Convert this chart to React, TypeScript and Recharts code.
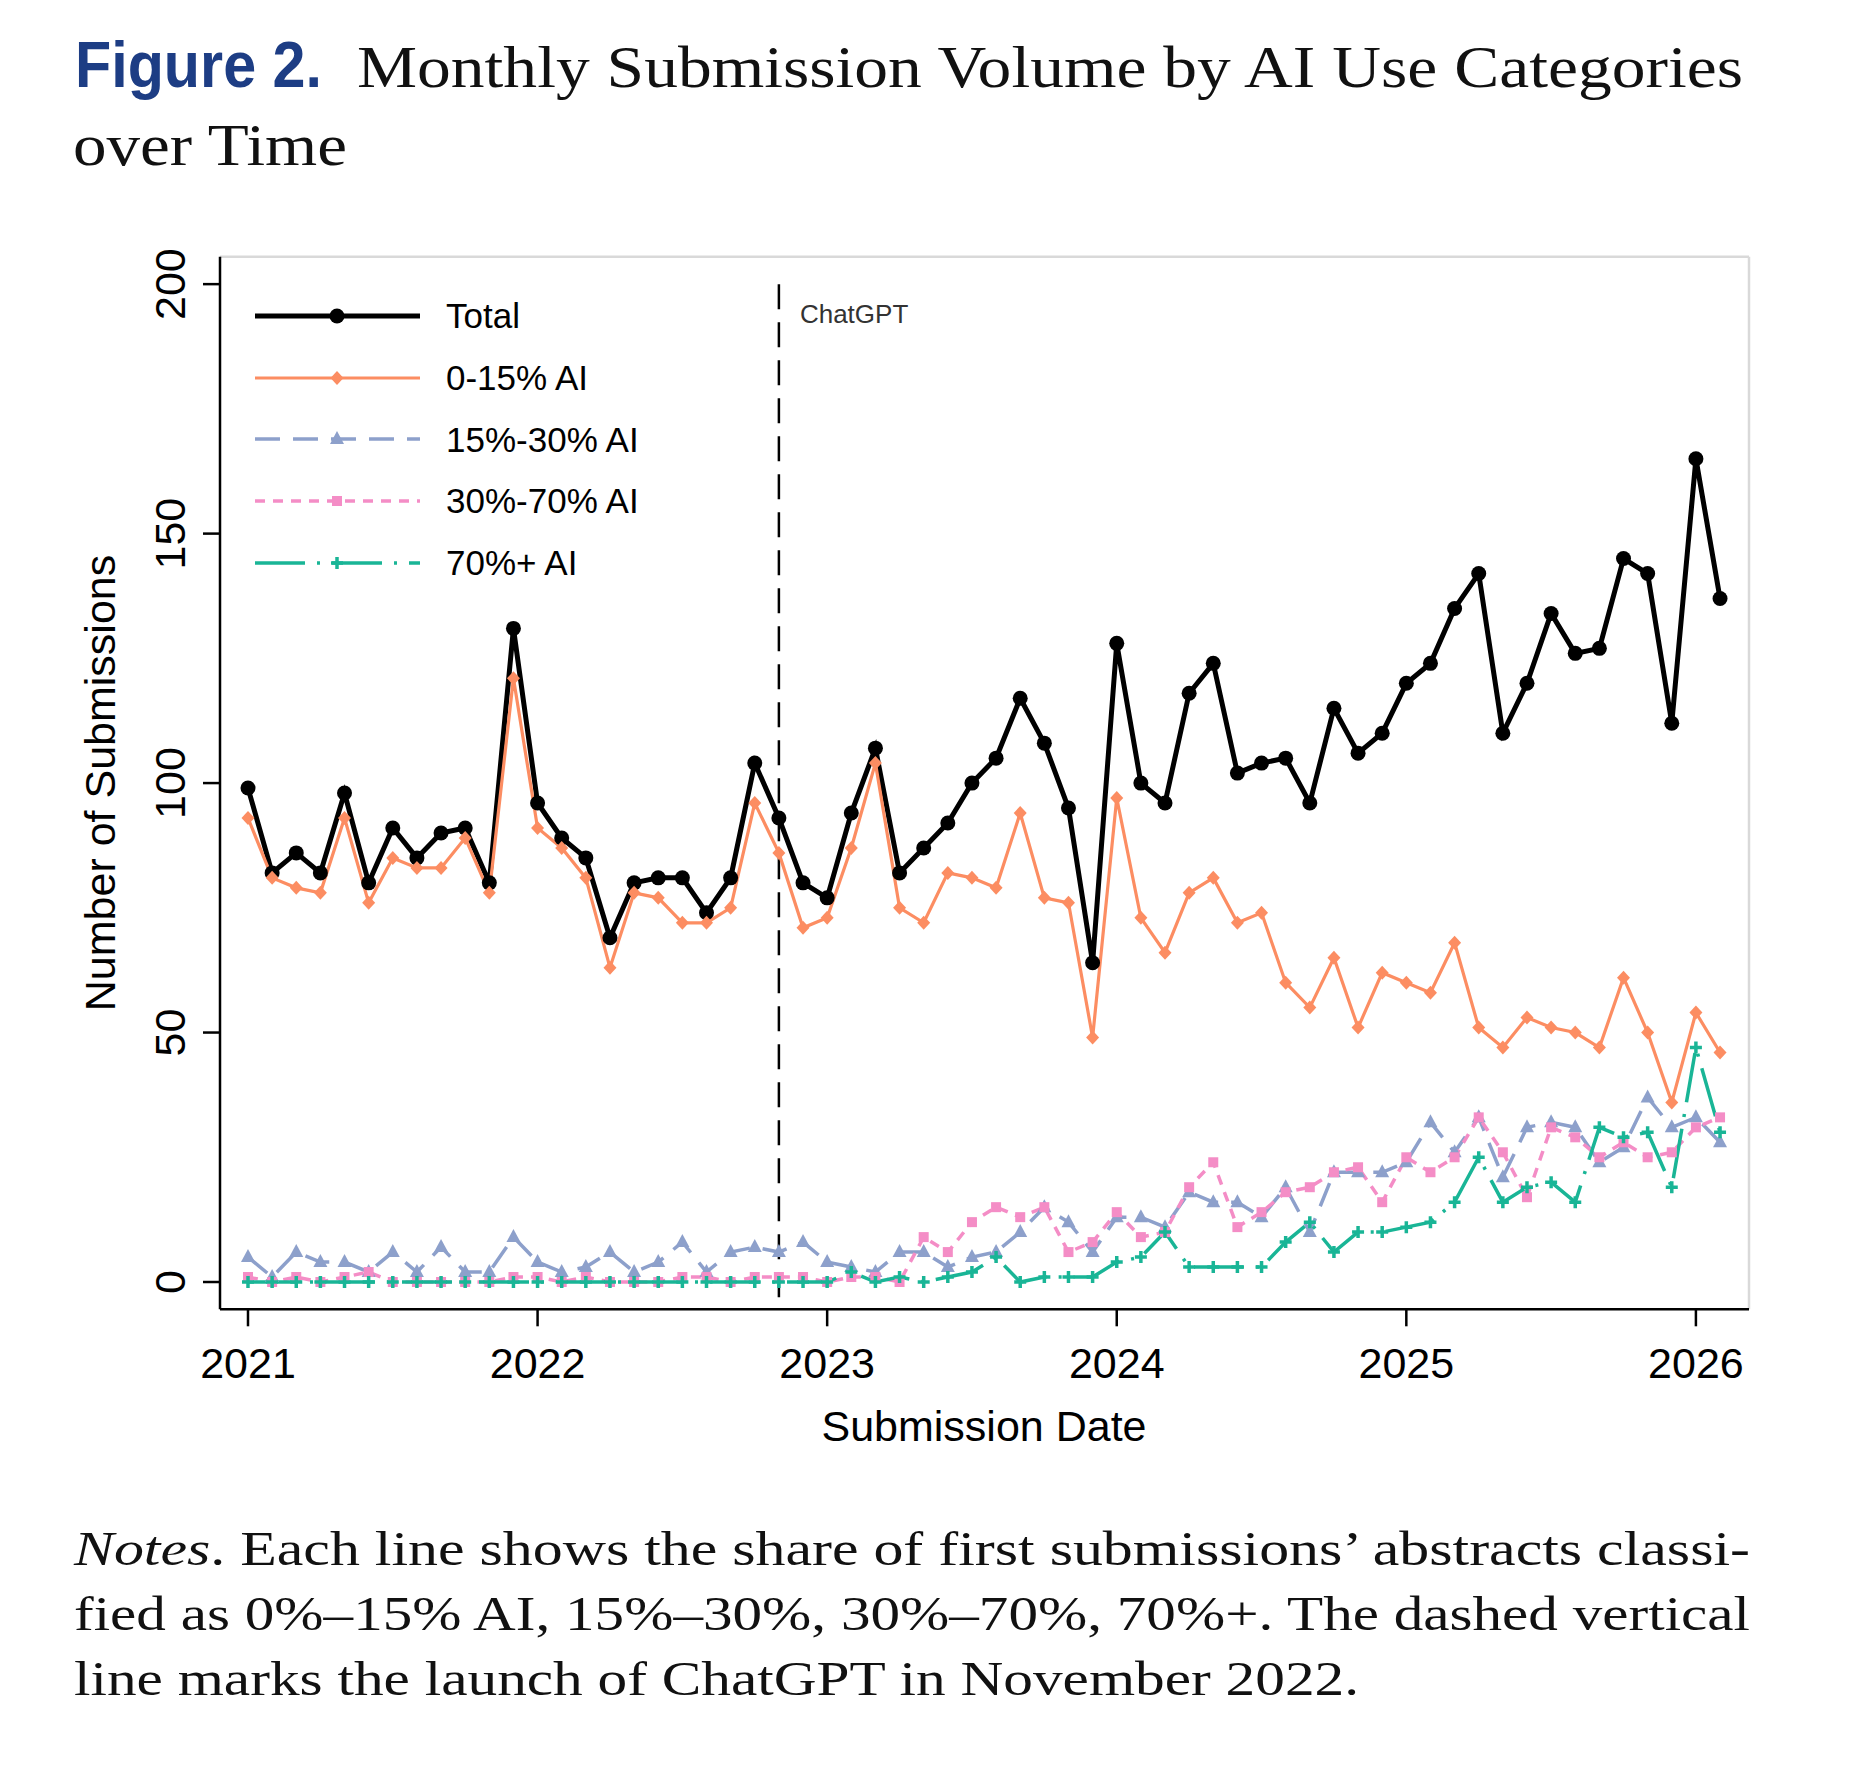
import { Legend, Line, LineChart, ReferenceLine, XAxis, YAxis } from 'recharts';

// Jan 2021 .. Feb 2026, one entry per month
const months = [
  '2021-01', '2021-02', '2021-03', '2021-04', '2021-05', '2021-06', '2021-07', '2021-08', '2021-09', '2021-10', '2021-11', '2021-12',
  '2022-01', '2022-02', '2022-03', '2022-04', '2022-05', '2022-06', '2022-07', '2022-08', '2022-09', '2022-10', '2022-11', '2022-12',
  '2023-01', '2023-02', '2023-03', '2023-04', '2023-05', '2023-06', '2023-07', '2023-08', '2023-09', '2023-10', '2023-11', '2023-12',
  '2024-01', '2024-02', '2024-03', '2024-04', '2024-05', '2024-06', '2024-07', '2024-08', '2024-09', '2024-10', '2024-11', '2024-12',
  '2025-01', '2025-02', '2025-03', '2025-04', '2025-05', '2025-06', '2025-07', '2025-08', '2025-09', '2025-10', '2025-11', '2025-12',
  '2026-01', '2026-02',
];

const total = [
  99, 82, 86, 82, 98, 80, 91, 85, 90, 91, 80, 131,
  96, 89, 85, 69, 80, 81, 81, 74, 81, 104, 93, 80,
  77, 94, 107, 82, 87, 92, 100, 105, 117, 108, 95, 64,
  128, 100, 96, 118, 124, 102, 104, 105, 96, 115, 106, 110,
  120, 124, 135, 142, 110, 120, 134, 126, 127, 145, 142, 112,
  165, 137,
];

const ai0to15 = [
  93, 81, 79, 78, 93, 76, 85, 83, 83, 89, 78, 121,
  91, 87, 81, 63, 78, 77, 72, 72, 75, 96, 86, 71,
  73, 87, 104, 75, 72, 82, 81, 79, 94, 77, 76, 49,
  97, 73, 66, 78, 81, 72, 74, 60, 55, 65, 51, 62,
  60, 58, 68, 51, 47, 53, 51, 50, 47, 61, 50, 36,
  54, 46,
];

const ai15to30 = [
  5, 1, 6, 4, 4, 2, 6, 2, 7, 2, 2, 9,
  4, 2, 3, 6, 2, 4, 8, 2, 6, 7, 6, 8,
  4, 3, 2, 6, 6, 3, 5, 6, 10, 15, 12, 6,
  13, 13, 11, 18, 16, 16, 13, 19, 10, 22, 22, 22,
  24, 32, 26, 33, 21, 31, 32, 31, 24, 27, 37, 31,
  33, 28,
];

const ai30to70 = [
  1, 0, 1, 0, 1, 2, 0, 0, 0, 0, 0, 1,
  1, 0, 1, 0, 0, 0, 1, 1, 0, 1, 1, 1,
  0, 1, 1, 0, 9, 6, 12, 15, 13, 15, 6, 8,
  14, 9, 10, 19, 24, 11, 14, 18, 19, 22, 23, 16,
  25, 22, 25, 33, 26, 17, 31, 29, 25, 28, 25, 26,
  31, 33,
];

const ai70plus = [
  0, 0, 0, 0, 0, 0, 0, 0, 0, 0, 0, 0,
  0, 0, 0, 0, 0, 0, 0, 0, 0, 0, 0, 0,
  0, 2, 0, 1, 0, 1, 2, 5, 0, 1, 1, 1,
  4, 5, 10, 3, 3, 3, 3, 8, 12, 6, 10, 10,
  11, 12, 16, 25, 16, 19, 20, 16, 31, 29, 30, 19,
  47, 30,
];

const yearTicks = [0, 12, 24, 36, 48, 60];
const yearLabels = ['2021', '2022', '2023', '2024', '2025', '2026'];
const yTicks = [0, 50, 100, 150, 200];
const seriesNames = ['Total', '0-15% AI', '15%-30% AI', '30%-70% AI', '70%+ AI'];
const chatgptMonth = 22; // Nov 2022

const data = months.map((month, i) => ({
  idx: i,
  month,
  total: total[i],
  ai0to15: ai0to15[i],
  ai15to30: ai15to30[i],
  ai30to70: ai30to70[i],
  ai70plus: ai70plus[i],
}));

const SANS = '"Liberation Sans", Arial, Helvetica, sans-serif';
const SERIF = '"Liberation Serif", "Times New Roman", serif';
const BLACK = '#000000';
const ORANGE = '#fc8d62';
const BLUE = '#8da0cb';
const PINK = '#f48dc6';
const GREEN = '#19b596';

type Marker = 'circle' | 'diamond' | 'triangle' | 'square' | 'cross';

const drawMarker = (kind: Marker, cx: number, cy: number, color: string, key?: string) => {
  switch (kind) {
    case 'circle':
      return <circle key={key} cx={cx} cy={cy} r={7.5} fill={color} />;
    case 'diamond':
      return (
        <path key={key} d={`M${cx},${cy - 7}L${cx + 6.5},${cy}L${cx},${cy + 7}L${cx - 6.5},${cy}Z`} fill={color} />
      );
    case 'triangle':
      return (
        <path key={key} d={`M${cx},${cy - 8}L${cx + 7},${cy + 5}L${cx - 7},${cy + 5}Z`} fill={color} />
      );
    case 'square':
      return <rect key={key} x={cx - 5} y={cy - 5} width={10} height={10} fill={color} />;
    default:
      return (
        <path
          key={key}
          d={`M${cx - 6},${cy}H${cx + 6}M${cx},${cy - 6}V${cy + 6}`}
          stroke={color}
          strokeWidth={3.5}
          fill="none"
        />
      );
  }
};

const seriesStyles: { key: string; color: string; width: number; dash?: string; marker: Marker }[] = [
  { key: 'total', color: BLACK, width: 5, marker: 'circle' },
  { key: 'ai0to15', color: ORANGE, width: 3.2, marker: 'diamond' },
  { key: 'ai15to30', color: BLUE, width: 3.5, dash: '25 13', marker: 'triangle' },
  { key: 'ai30to70', color: PINK, width: 3.5, dash: '10 8', marker: 'square' },
  { key: 'ai70plus', color: GREEN, width: 3.5, dash: '50 12 3 12', marker: 'cross' },
];

const makeDot = (kind: Marker, color: string, name: string) => (props: any) => {
  const { cx, cy, index } = props;
  if (cx == null || cy == null) return <g key={`${name}-${index}`} />;
  return drawMarker(kind, cx, cy, color, `${name}-${index}`);
};

const renderLegend = () => (
  <div style={{ fontFamily: SANS, fontSize: 35, color: '#000' }}>
    {seriesStyles.map((s, i) => (
      <div key={s.key} style={{ display: 'flex', alignItems: 'center', height: 61.7 }}>
        <svg width={170} height={62} style={{ display: 'block' }}>
          <line x1={0} x2={165} y1={31} y2={31} stroke={s.color} strokeWidth={s.width} strokeDasharray={s.dash} />
          {drawMarker(s.marker, 82, 31, s.color)}
        </svg>
        <span style={{ marginLeft: 21, lineHeight: 1 }}>{seriesNames[i]}</span>
      </div>
    ))}
  </div>
);

const YTick = (props: any) => {
  const { x, y, payload } = props;
  return (
    <text
      x={x}
      y={y}
      transform={`rotate(-90, ${x}, ${y})`}
      textAnchor="middle"
      fontFamily={SANS}
      fontSize={43}
      fill="#000"
    >
      {payload.value}
    </text>
  );
};

const ChatLabel = (props: any) => {
  const vb = props.viewBox || { x: 778, y: 284 };
  return (
    <text x={vb.x + 21} y={vb.y + 39} fontFamily={SANS} fontSize={26} fill="#333">
      ChatGPT
    </text>
  );
};

const X_MIN = -1.16;
const X_MAX = 62.2;
const Y_MIN = -5.47;
const Y_MAX = 205.5;

export default function App() {
  return (
    <div style={{ position: 'absolute', left: 0, top: 0, width: 1870, height: 1776, background: '#fff' }}>
      <svg width={1870} height={200} style={{ position: 'absolute', left: 0, top: 0 }}>
        <text
          x={75}
          y={87}
          fontFamily={SANS}
          fontWeight="bold"
          fontSize={64}
          fill="#1d3d84"
          textLength={247}
          lengthAdjust="spacingAndGlyphs"
        >
          Figure 2.
        </text>
        <text x={357} y={87} fontFamily={SERIF} fontSize={59} fill="#111" textLength={1386} lengthAdjust="spacingAndGlyphs">
          Monthly Submission Volume by AI Use Categories
        </text>
        <text x={73} y={165} fontFamily={SERIF} fontSize={59} fill="#111" textLength={274} lengthAdjust="spacingAndGlyphs">
          over Time
        </text>
      </svg>

      <div style={{ position: 'absolute', left: 0, top: 0 }}>
        <LineChart
          width={1870}
          height={1500}
          data={data}
          margin={{ top: 256.7, right: 121, bottom: 40.7, left: 0 }}
        >
          <XAxis
            type="number"
            dataKey="idx"
            domain={[X_MIN, X_MAX]}
            ticks={yearTicks}
            allowDataOverflow
            tickFormatter={(v: number) => yearLabels[yearTicks.indexOf(v)]}
            height={150}
            axisLine={{ stroke: '#000', strokeWidth: 2.5 }}
            tickLine={{ stroke: '#000', strokeWidth: 2.5 }}
            tickSize={17}
            tickMargin={21}
            tick={{ fontSize: 43, fontFamily: SANS, fill: '#000' }}
            label={() => (
              <text x={984} y={1441} textAnchor="middle" fontFamily={SANS} fontSize={43} fill="#000">
                Submission Date
              </text>
            )}
          />
          <YAxis
            type="number"
            domain={[Y_MIN, Y_MAX]}
            ticks={yTicks}
            allowDataOverflow
            width={220}
            axisLine={{ stroke: '#000', strokeWidth: 2.5 }}
            tickLine={{ stroke: '#000', strokeWidth: 2.5 }}
            tickSize={17}
            tickMargin={18}
            tick={<YTick />}
            label={() => (
              <text
                x={115}
                y={783}
                transform="rotate(-90, 115, 783)"
                textAnchor="middle"
                fontFamily={SANS}
                fontSize={43}
                fill="#000"
              >
                Number of Submissions
              </text>
            )}
          />
          <ReferenceLine y={Y_MAX} stroke="#d9d9d9" strokeWidth={2.5} />
          <ReferenceLine x={X_MAX} stroke="#d9d9d9" strokeWidth={2.5} />
          <ReferenceLine
            segment={[
              { x: chatgptMonth, y: 200 },
              { x: chatgptMonth, y: Y_MIN },
            ]}
            stroke="#000"
            strokeWidth={2.5}
            strokeDasharray="25 13"
            label={<ChatLabel />}
          />
          <Legend
            content={renderLegend}
            layout="vertical"
            align="center"
            verticalAlign="middle"
            wrapperStyle={{ left: 255, top: 285, width: 420, height: 310 }}
          />
          {seriesStyles.map((s, i) => (
            <Line
              key={s.key}
              type="linear"
              dataKey={s.key}
              name={seriesNames[i]}
              stroke={s.color}
              strokeWidth={s.width}
              strokeDasharray={s.dash}
              dot={makeDot(s.marker, s.color, s.key)}
              activeDot={false}
              isAnimationActive={false}
            />
          ))}
        </LineChart>
      </div>

      <svg width={1870} height={276} style={{ position: 'absolute', left: 0, top: 1500 }}>
        <g fontFamily={SERIF} fontSize={48} fill="#111">
          <text x={74} y={65} textLength={1676} lengthAdjust="spacingAndGlyphs">
            <tspan fontStyle="italic">Notes</tspan>.  Each line shows the share of first submissions’ abstracts classi-
          </text>
          <text x={74} y={130} textLength={1676} lengthAdjust="spacingAndGlyphs">
            fied as 0%–15% AI, 15%–30%, 30%–70%, 70%+. The dashed vertical
          </text>
          <text x={74} y={195} textLength={1285} lengthAdjust="spacingAndGlyphs">
            line marks the launch of ChatGPT in November 2022.
          </text>
        </g>
      </svg>
    </div>
  );
}
